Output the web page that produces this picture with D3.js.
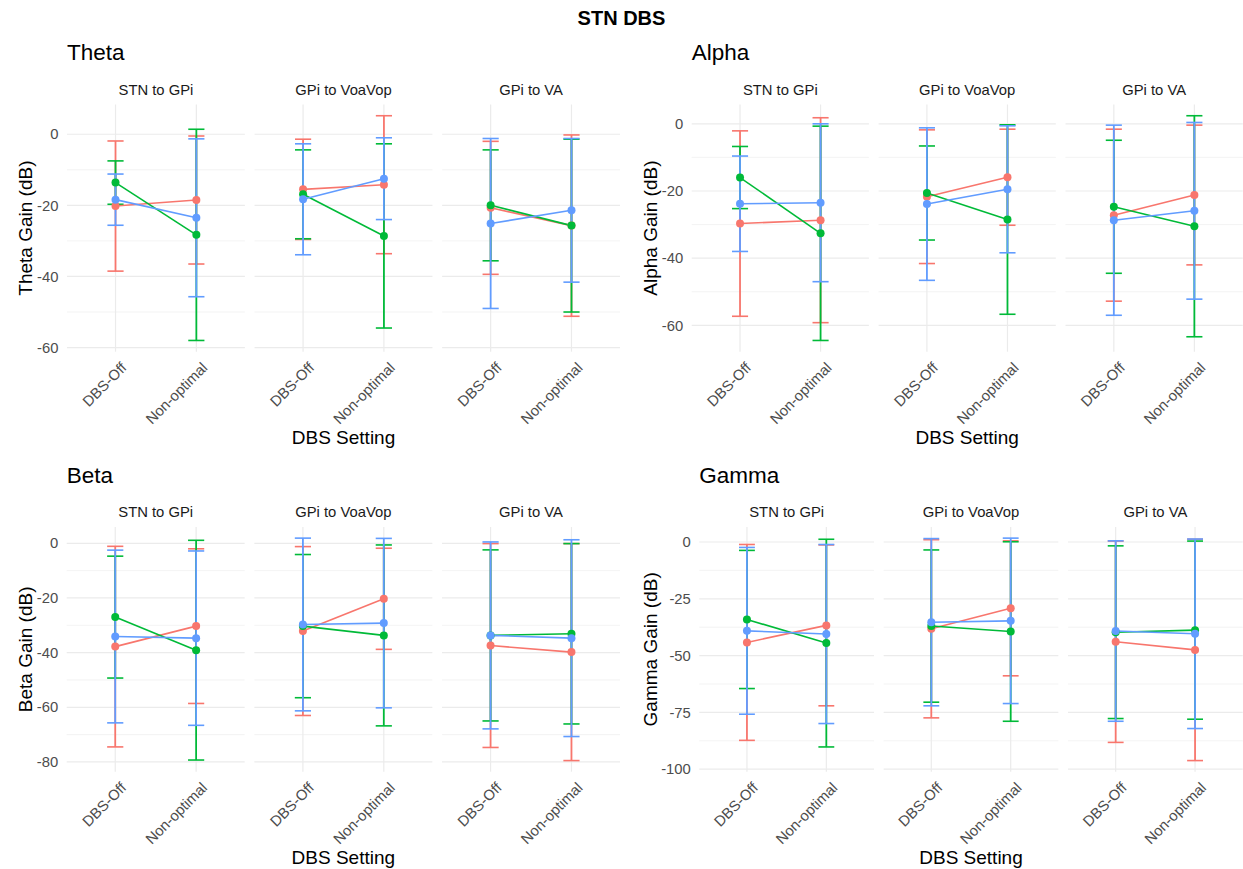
<!DOCTYPE html>
<html><head><meta charset="utf-8">
<script src="https://cdn.jsdelivr.net/npm/d3@7"></script>
<style>body{margin:0;background:#fff;} text{font-family:"Liberation Sans",Arial,sans-serif;}</style>
</head><body><svg id="c" width="1243" height="869"></svg>
<script>
const facets = ["STN to GPi", "GPi to VoaVop", "GPi to VA"];
const settings = ["DBS-Off", "Non-optimal"];
const groups = ["Group 1", "Group 2", "Group 3"];
const groupColors = ["#F8766D", "#00BA38", "#619CFF"];

// [facet][group][setting]
const thetaMean = [[[-20.2,-18.5],[-13.6,-28.3],[-18.4,-23.5]],
                   [[-15.5,-14.2],[-16.9,-28.6],[-18.3,-12.5]],
                   [[-20.7,-25.7],[-20.0,-25.7],[-25.1,-21.4]]];
const thetaSD   = [[[18.3,18.0],[6.1,29.7],[7.2,22.2]],
                   [[14.1,19.4],[12.5,25.9],[15.6,11.5]],
                   [[18.7,25.5],[15.6,24.3],[23.9,20.2]]];
const alphaMean = [[[-29.7,-28.7],[-16.0,-32.6],[-23.8,-23.5]],
                   [[-21.7,-15.9],[-20.6,-28.5],[-23.9,-19.5]],
                   [[-27.2,-21.2],[-24.7,-30.5],[-28.7,-25.9]]];
const alphaSD   = [[[27.6,30.5],[9.25,31.9],[14.2,23.5]],
                   [[19.9,14.3],[14.0,28.2],[22.7,18.9]],
                   [[25.6,20.8],[19.8,32.9],[28.3,26.3]]];
const betaMean  = [[[-37.8,-30.3],[-27.0,-39.1],[-34.1,-34.7]],
                   [[-32.1,-20.3],[-30.3,-33.7],[-29.7,-29.2]],
                   [[-37.4,-39.8],[-33.7,-33.1],[-33.7,-34.7]]];
const betaSD    = [[[36.7,28.3],[22.3,40.2],[31.6,31.9]],
                   [[30.9,18.5],[26.2,33.1],[31.6,31.0]],
                   [[37.3,39.7],[31.3,33.0],[34.2,36.0]]];
const gammaMean = [[[-44.2,-36.7],[-34.1,-44.5],[-39.1,-40.5]],
                   [[-38.2,-29.2],[-37.0,-39.4],[-35.3,-34.7]],
                   [[-43.9,-47.5],[-39.7,-38.8],[-39.2,-40.4]]];
const gammaSD   = [[[43.1,35.4],[30.4,45.7],[36.7,39.4]],
                   [[39.2,29.7],[33.5,39.5],[36.8,36.4]],
                   [[44.3,48.7],[38.0,39.2],[39.7,41.7]]];

const thetaTicks = [0, -20, -40, -60];
const alphaTicks = [0, -20, -40, -60];
const betaTicks  = [0, -20, -40, -60, -80];
const gammaTicks = [0, -25, -50, -75, -100];

const panels = [
  {name:"Theta", mean:thetaMean, sd:thetaSD, ticks:thetaTicks, left:67,   right:620,   top:104.5, bottom:351.7, colX:0},
  {name:"Alpha", mean:alphaMean, sd:alphaSD, ticks:alphaTicks, left:691.7,right:1242.7,top:104.5, bottom:351.7, colX:625},
  {name:"Beta",  mean:betaMean,  sd:betaSD,  ticks:betaTicks,  left:66.7, right:620,   top:527,   bottom:771.7, colX:0},
  {name:"Gamma", mean:gammaMean, sd:gammaSD, ticks:gammaTicks, left:699.3,right:1242.7,top:527,   bottom:771.7, colX:625}
];

const svg = d3.select("#c");
svg.append("text").attr("x", 621.5).attr("y", 25).attr("text-anchor","middle")
  .attr("font-size", 20).attr("font-weight","bold").attr("fill","#000").text("STN DBS");

const gap = 9.7;
panels.forEach(p => {
  const g = svg.append("g");
  let lo = Infinity, hi = -Infinity;
  p.mean.forEach((f,fi)=>f.forEach((s,si)=>s.forEach((m,k)=>{
    const e = p.sd[fi][si][k]; lo = Math.min(lo, m-e); hi = Math.max(hi, m+e);
  })));
  const ex = (hi-lo)*0.05;
  const y = d3.scaleLinear().domain([lo-ex, hi+ex]).range([p.bottom, p.top]);
  const step = (p.right - p.left + gap)/3;
  const fx = d3.scaleBand().domain(facets).range([p.left, p.right]).paddingInner(gap/step).paddingOuter(0);

  const majors = p.ticks;
  const d = Math.abs(majors[0]-majors[1]);
  const minors = [];
  for (let v = majors[0] + d; v >= majors[majors.length-1] - d; v -= d) minors.push(v - d/2);
  const minorIn = minors.filter(v => v >= y.domain()[0] && v <= y.domain()[1]);

  facets.forEach((fname, fi) => {
    const x0 = fx(fname), w = fx.bandwidth();
    const x = d3.scalePoint().domain(settings).range([x0, x0+w]).padding(0.6);
    const fg = g.append("g");
    fg.selectAll(".mn").data(minorIn).join("line")
      .attr("x1", x0).attr("x2", x0+w).attr("y1", v=>y(v)).attr("y2", v=>y(v))
      .attr("stroke","#ebebeb").attr("stroke-width",0.6);
    fg.selectAll(".mj").data(majors).join("line")
      .attr("x1", x0).attr("x2", x0+w).attr("y1", v=>y(v)).attr("y2", v=>y(v))
      .attr("stroke","#ebebeb").attr("stroke-width",1.2);
    fg.selectAll(".vx").data(settings).join("line")
      .attr("x1", s=>x(s)).attr("x2", s=>x(s)).attr("y1", p.top).attr("y2", p.bottom)
      .attr("stroke","#ebebeb").attr("stroke-width",1.2);
    fg.append("text").attr("x", x0+w/2).attr("y", p.top - 10).attr("text-anchor","middle")
      .attr("font-size", 14.8).attr("fill","#1a1a1a").text(fname);
    settings.forEach(s => {
      fg.append("text").attr("transform", `translate(${x(s)+12},${p.bottom+17}) rotate(-45)`)
        .attr("text-anchor","end").attr("font-size",14.8).attr("fill","#4d4d4d").text(s);
    });
    const capW = 0.2 * x.step();
    groups.forEach((gr, gi) => {
      settings.forEach((s, k) => {
        const m = p.mean[fi][gi][k], e = p.sd[fi][gi][k];
        const col = groupColors[gi];
        fg.append("line").attr("x1", x(s)).attr("x2", x(s)).attr("y1", y(m+e)).attr("y2", y(m-e))
          .attr("stroke", col).attr("stroke-width", 1.8);
        [m+e, m-e].forEach(v => fg.append("line").attr("x1", x(s)-capW/2).attr("x2", x(s)+capW/2)
          .attr("y1", y(v)).attr("y2", y(v)).attr("stroke", col).attr("stroke-width", 1.6));
      });
    });
    const line = d3.line().x((d,k)=>x(settings[k])).y(d=>y(d));
    groups.forEach((gr, gi) => {
      fg.append("path").attr("d", line(p.mean[fi][gi])).attr("fill","none")
        .attr("stroke", groupColors[gi]).attr("stroke-width", 1.6);
    });
    groups.forEach((gr, gi) => {
      fg.selectAll(null).data(p.mean[fi][gi]).join("circle")
        .attr("cx", (d,k)=>x(settings[k])).attr("cy", d=>y(d)).attr("r", 4)
        .attr("fill", groupColors[gi]);
    });
  });

  g.selectAll(".yt").data(majors).join("text")
    .attr("x", p.left - 8.5).attr("y", v=>y(v)).attr("dy","0.35em").attr("text-anchor","end")
    .attr("font-size", 14.8).attr("fill","#4d4d4d").text(v => String(v));
  g.append("text").attr("transform", `translate(${p.colX+25},${(p.top+p.bottom)/2}) rotate(-90)`)
    .attr("text-anchor","middle").attr("dy","0.35em").attr("font-size",19).attr("fill","#000")
    .text(p.name + " Gain (dB)");
  g.append("text").attr("x", (p.left+p.right)/2).attr("y", p.bottom + 92)
    .attr("text-anchor","middle").attr("font-size",19).attr("fill","#000").text("DBS Setting");
  g.append("text").attr("x", p.left).attr("y", p.top - 44.5).attr("font-size",22.5).attr("fill","#000").text(p.name);
});
</script></body></html>
